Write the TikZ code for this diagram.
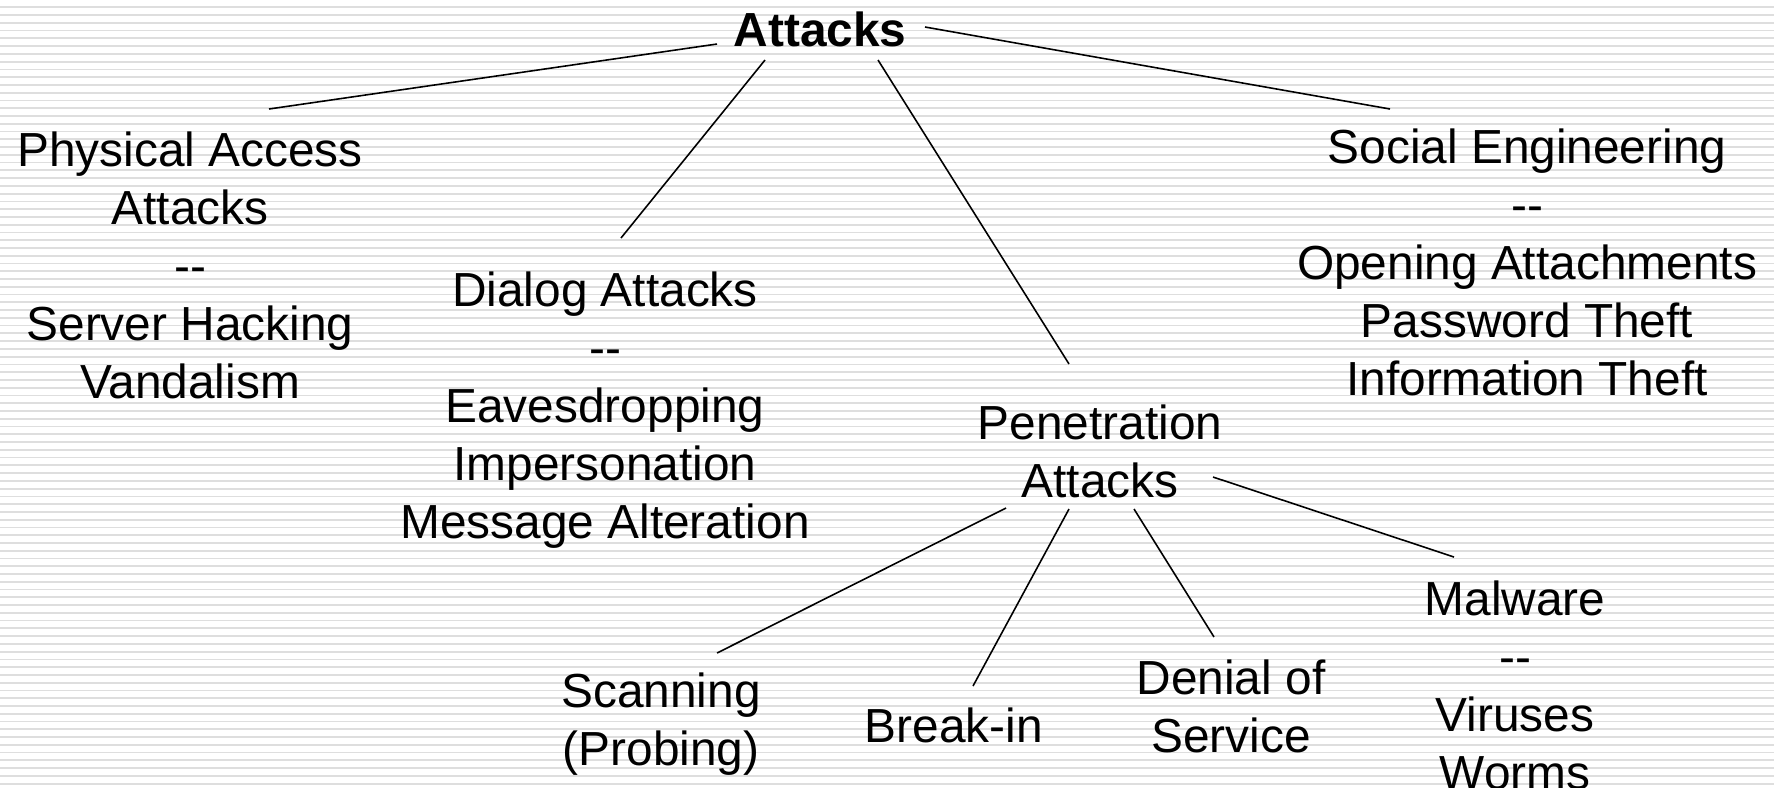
\documentclass[tikz,border=0pt]{standalone}
\usepackage{fontspec}
\setmainfont{Liberation Sans}
\usepackage{tikz}
\usetikzlibrary{calc}
\definecolor{stripegray}{RGB}{222,222,222}

\begin{document}
\begin{tikzpicture}[x=0.01cm,y=-0.01cm]
  \tikzstyle{cat}=[inner sep=0pt,align=center,font=\fontsize{13.6}{16.5}\selectfont]
  \tikzstyle{root}=[cat,font=\fontsize{13.6}{16.5}\selectfont\bfseries]
  \tikzstyle{link}=[line width=0.45pt]
  % background stripes
  \useasboundingbox (0,0) rectangle (1774,787);
  \foreach \i in {0,...,101}
    \draw[stripegray,line width=0.5pt] (0,7.3+7.763*\i) -- (1774,7.3+7.763*\i);

  \node[root] (attacks) at (820,29) {Attacks};
  \node[cat] (phys) at (190,265) {Physical Access\\Attacks\\-{}-\\Server Hacking\\Vandalism};
  \node[cat] (dialog) at (605,410) {Dialog Attacks\\-{}-\\Eavesdropping\\Impersonation\\Message Alteration};
  \node[cat] (pen) at (1100,451) {Penetration\\Attacks};
  \node[cat] (social) at (1527,262) {Social Engineering\\-{}-\\Opening Attachments\\Password Theft\\Information Theft};
  \node[cat] (scan) at (661,724) {Scanning\\(Probing)};
  \node[cat] (breakin) at (954,725) {Break-in};
  \node[cat] (denial) at (1231,706) {Denial of\\Service};
  \node[cat] (malware) at (1515,685) {Malware\\-{}-\\Viruses\\Worms};

  \draw[link] ([shift={(-103,15)}]attacks.center) -- ([shift={(79,-156)}]phys.center);
  \draw[link] ([shift={(-55,31)}]attacks.center) -- ([shift={(16,-172)}]dialog.center);
  \draw[link] ([shift={(58,31)}]attacks.center) -- ([shift={(-31,-87)}]pen.center);
  \draw[link] ([shift={(105,-2)}]attacks.center) -- ([shift={(-137,-153)}]social.center);
  \draw[link] ([shift={(-94,57)}]pen.center) -- ([shift={(56,-71)}]scan.center);
  \draw[link] ([shift={(-31,58)}]pen.center) -- ([shift={(19,-39)}]breakin.center);
  \draw[link] ([shift={(34,58)}]pen.center) -- ([shift={(-17,-69)}]denial.center);
  \draw[link] ([shift={(113,26)}]pen.center) -- ([shift={(-61,-128)}]malware.center);
\end{tikzpicture}
\end{document}
